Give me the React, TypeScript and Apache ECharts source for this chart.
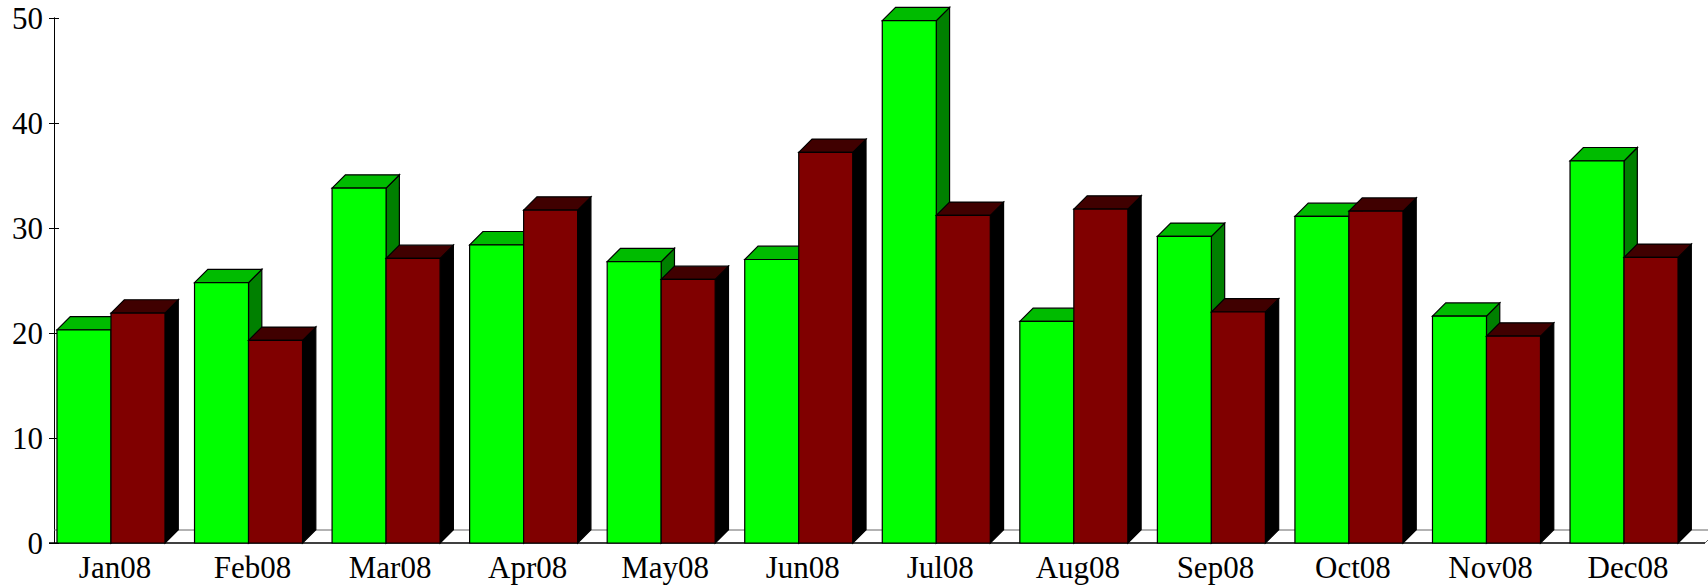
import React, { useEffect, useRef } from "react";
import * as echarts from "echarts";

const months = ["Jan08", "Feb08", "Mar08", "Apr08", "May08", "Jun08", "Jul08", "Aug08", "Sep08", "Oct08", "Nov08", "Dec08"];
const greenValues = [20.3, 24.8, 33.8, 28.4, 26.8, 27.0, 49.75, 21.1, 29.2, 31.1, 21.6, 36.4];
const redValues = [21.9, 19.3, 27.1, 31.7, 25.1, 37.2, 31.2, 31.8, 22.0, 31.6, 19.7, 27.2];

const FONT = '"Liberation Serif", serif';
const BAR_W = 54;
const DEPTH = 13.3;

function bar3d(dir: number, front: string, top: string, side: string) {
  return (params: any, api: any) => {
    const c = api.coord([api.value(0), api.value(1)]);
    const base = api.coord([api.value(0), 0]);
    const x0 = dir < 0 ? c[0] - BAR_W : c[0];
    const x1 = x0 + BAR_W;
    const yT = c[1];
    const yB = base[1];
    const edge = { stroke: "#000", lineWidth: 1.2 };
    return {
      type: "group",
      children: [
        {
          type: "polygon",
          shape: { points: [[x1, yB], [x1 + DEPTH, yB - DEPTH], [x1 + DEPTH, yT - DEPTH], [x1, yT]] },
          style: { fill: side, ...edge },
        },
        {
          type: "polygon",
          shape: { points: [[x0, yT], [x0 + DEPTH, yT - DEPTH], [x1 + DEPTH, yT - DEPTH], [x1, yT]] },
          style: { fill: top, ...edge },
        },
        {
          type: "rect",
          shape: { x: x0, y: yT, width: BAR_W, height: yB - yT },
          style: { fill: front, ...edge },
        },
      ],
    };
  };
}

export default function App() {
  const ref = useRef<HTMLDivElement>(null);
  useEffect(() => {
    document.body.style.margin = "0";
    const chart = echarts.init(ref.current!, null, { renderer: "svg" });
    const yBase = {
      type: "value" as const,
      min: 0,
      max: 50,
      interval: 10,
      position: "left" as const,
      offset: -11.8,
      splitLine: { show: false },
      axisLine: { show: true, lineStyle: { color: "#000", width: 1 } },
    };
    chart.setOption({
      animation: false,
      backgroundColor: "#fff",
      grid: { left: 42.2, top: 18, width: 1650.6, height: 525 },
      xAxis: {
        type: "category",
        data: months,
        axisLine: { show: false },
        axisTick: { show: false },
        axisLabel: { color: "#000", fontFamily: FONT, fontSize: 31, margin: 9, padding: [0, 0, 0, 8], interval: 0 },
      },
      yAxis: [
        {
          ...yBase,
          axisTick: { show: true, length: 5, lineStyle: { color: "#000", width: 1 } },
          axisLabel: { color: "#000", fontFamily: FONT, fontSize: 31, margin: 11 },
        },
        {
          ...yBase,
          axisTick: { show: true, inside: true, length: 5, lineStyle: { color: "#000", width: 1 } },
          axisLabel: { show: false },
        },
      ],
      graphic: [
        { type: "line", z: 1, shape: { x1: 54, y1: 530, x2: 1708, y2: 530 }, style: { stroke: "#666", lineWidth: 1 } },
        { type: "line", z: 1, shape: { x1: 1705, y1: 543, x2: 1708, y2: 540 }, style: { stroke: "#666", lineWidth: 1 } },
        { type: "line", z: 1, shape: { x1: 49, y1: 543, x2: 1705, y2: 543 }, style: { stroke: "#000", lineWidth: 1.5 } },
      ],
      series: [
        {
          type: "custom",
          name: "Green",
          clip: false,
          silent: true,
          renderItem: bar3d(-1, "#00ff00", "#00bb00", "#008000"),
          encode: { x: 0, y: 1 },
          data: greenValues.map((v, i) => [i, v]),
        },
        {
          type: "custom",
          name: "Red",
          clip: false,
          silent: true,
          renderItem: bar3d(1, "#800000", "#400000", "#000000"),
          encode: { x: 0, y: 1 },
          data: redValues.map((v, i) => [i, v]),
        },
      ],
    });
    return () => chart.dispose();
  }, []);
  return <div ref={ref} style={{ position: "absolute", left: 0, top: 0, width: 1708, height: 587 }} />;
}
